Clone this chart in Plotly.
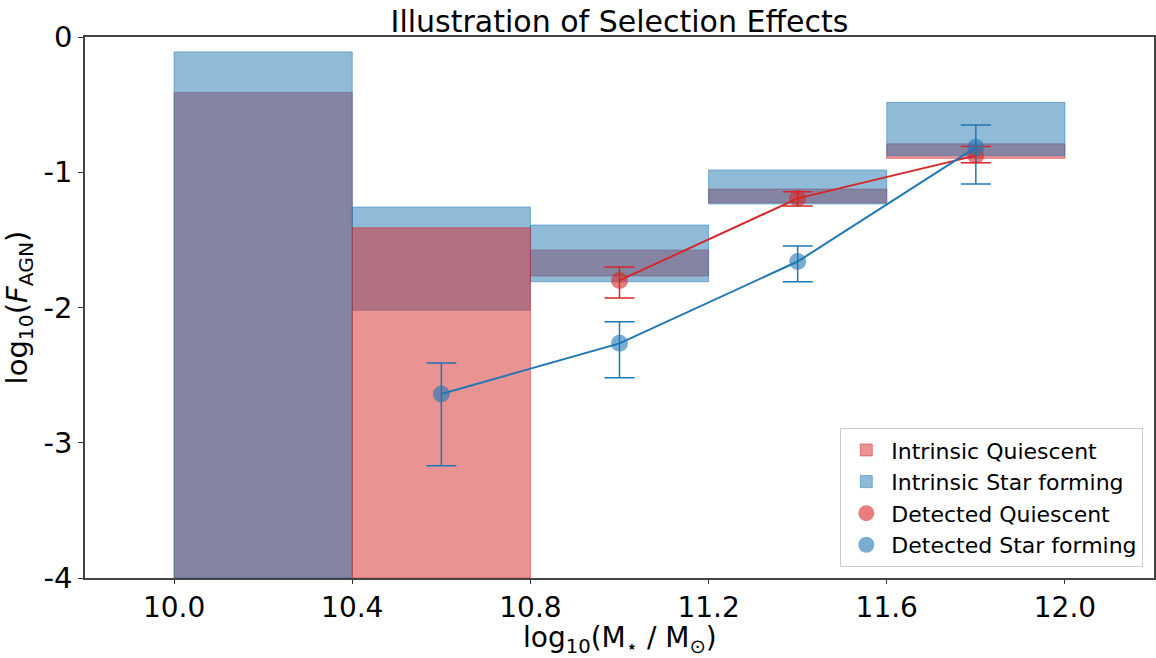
import plotly.graph_objects as go

# Bins (log10 stellar mass)
bin_left = [10.0, 10.4, 10.8, 11.2, 11.6]
bin_width = 0.4

# Intrinsic ranges: (low, high) of log10(F_AGN)
q_low = [-4.0, -4.0, -1.767, -1.225, -0.897]
q_high = [-0.41, -1.41, -1.575, -1.124, -0.79]
sf_low = [-4.0, -2.02, -1.81, -1.235, -0.877]
sf_high = [-0.11, -1.257, -1.39, -0.983, -0.483]

# Detected points
q_x = [11.0, 11.4, 11.8]
q_y = [-1.80, -1.193, -0.877]
q_err_up = [0.10, 0.049, 0.067]
q_err_dn = [0.13, 0.057, 0.053]

sf_x = [10.6, 11.0, 11.4, 11.8]
sf_y = [-2.64, -2.265, -1.66, -0.816]
sf_err_up = [0.23, 0.16, 0.115, 0.166]
sf_err_dn = [0.53, 0.255, 0.15, 0.271]

RED = "#d62728"
BLUE = "#1f77b4"
RED_FILL = "rgba(214,39,40,0.5)"
BLUE_FILL = "rgba(31,119,180,0.5)"

centers = [b + bin_width / 2 for b in bin_left]

fig = go.Figure()

def bar_trace(idx, low, high, fill, name, show):
    return go.Bar(
        x=[centers[i] for i in idx],
        base=[low[i] for i in idx],
        y=[high[i] - low[i] for i in idx],
        width=bin_width,
        marker=dict(color=fill, line=dict(color=fill, width=1)),
        name=name, legendgroup=name, showlegend=show,
        hoverinfo="skip",
    )

# Drawing order: red under blue, except bin 2 where red is on top
fig.add_trace(bar_trace([0, 2, 3, 4], q_low, q_high, RED_FILL, "Intrinsic Quiescent", True))
fig.add_trace(bar_trace([0, 1, 2, 3, 4], sf_low, sf_high, BLUE_FILL, "Intrinsic Star forming", True))
fig.add_trace(bar_trace([1], q_low, q_high, RED_FILL, "Intrinsic Quiescent", False))

# Detected markers with error bars
fig.add_trace(go.Scatter(
    x=q_x, y=q_y, mode="markers", name="Detected Quiescent",
    marker=dict(color=RED, size=17, opacity=0.6),
    error_y=dict(type="data", array=q_err_up, arrayminus=q_err_dn,
                 color=RED, thickness=1.5, width=15),
))
fig.add_trace(go.Scatter(
    x=sf_x, y=sf_y, mode="markers", name="Detected Star forming",
    marker=dict(color=BLUE, size=17, opacity=0.6),
    error_y=dict(type="data", array=sf_err_up, arrayminus=sf_err_dn,
                 color=BLUE, thickness=1.5, width=15),
))
# Connecting lines
fig.add_trace(go.Scatter(x=q_x, y=q_y, mode="lines", line=dict(color=RED, width=2),
                         showlegend=False, hoverinfo="skip"))
fig.add_trace(go.Scatter(x=sf_x, y=sf_y, mode="lines", line=dict(color=BLUE, width=2),
                         showlegend=False, hoverinfo="skip"))

xticks = [10.0, 10.4, 10.8, 11.2, 11.6, 12.0]
yticks = [0, -1, -2, -3, -4]

fig.update_layout(
    width=1156, height=658,
    margin=dict(l=85, r=0, t=37, b=80),
    barmode="overlay",
    plot_bgcolor="white", paper_bgcolor="white",
    font=dict(family="DejaVu Sans", color="black"),
    title=dict(text="Illustration of Selection Effects", x=0.5, xref="paper",
               y=0.968, yanchor="middle", font=dict(size=30)),
    xaxis=dict(range=[9.8, 12.2], tickvals=xticks, ticktext=[f"{v:.1f}" for v in xticks],
               ticks="outside", ticklen=4, tickcolor="#333", showgrid=False, zeroline=False,
               showline=True, linecolor="#444", linewidth=1.5, mirror=True,
               tickfont=dict(size=28)),
    yaxis=dict(range=[-4, 0], tickvals=yticks, ticktext=[str(v) if v >= 0 else "-" + str(-v) for v in yticks],
               ticks="outside", ticklen=5, tickcolor="#333", showgrid=False, zeroline=False,
               showline=True, linecolor="#444", linewidth=1.5, mirror=True,
               tickfont=dict(size=29),
               title=dict(text="log<sub>10</sub>(<i>F</i><sub>AGN</sub>)", font=dict(size=29), standoff=10)),
    legend=dict(x=0.99, xanchor="right", y=0.02, yanchor="bottom",
                bgcolor="rgba(255,255,255,0.8)", bordercolor="#cccccc", borderwidth=1,
                font=dict(size=22), traceorder="normal", itemwidth=40),
    annotations=[dict(text="log<sub>10</sub>(M<sub>⋆</sub> / M<sub>⊙</sub>)",
                      xref="paper", yref="paper", x=0.5, y=-0.076, xanchor="center",
                      yanchor="top", showarrow=False, font=dict(size=28))],
)

fig.write_html("out.html")
